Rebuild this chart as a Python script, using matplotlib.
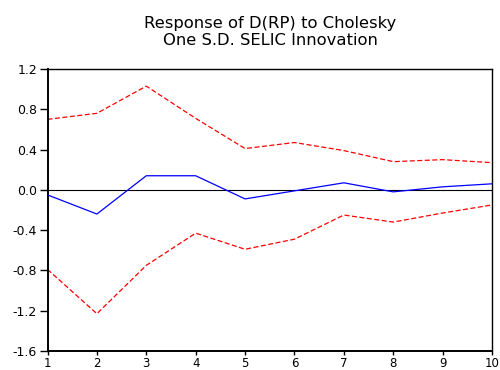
import matplotlib
matplotlib.use("Agg")
import matplotlib.pyplot as plt

periods = [1, 2, 3, 4, 5, 6, 7, 8, 9, 10]
response = [-0.05, -0.24, 0.14, 0.14, -0.09, -0.01, 0.07, -0.02, 0.03, 0.06]
upper = [0.70, 0.76, 1.03, 0.71, 0.41, 0.47, 0.39, 0.28, 0.30, 0.27]
lower = [-0.79, -1.23, -0.75, -0.43, -0.59, -0.49, -0.25, -0.32, -0.23, -0.15]
yticks = [1.2, 0.8, 0.4, 0.0, -0.4, -0.8, -1.2, -1.6]
ytick_labels = ["1.2", "0.8", "0.4", "0.0", "-0.4", "-0.8", "-1.2", "-1.6"]
title = "Response of D(RP) to Cholesky\nOne S.D. SELIC Innovation"

plt.rcParams['font.family'] = ['DejaVu Sans']

fig = plt.figure(figsize=(5, 3.7), dpi=100)
ax = fig.add_axes([0.095, 0.0514, 0.889, 0.7621])

ax.axhline(0, color='black', linewidth=0.8, zorder=1)
ax.plot(periods, response, color='#0000ff', linewidth=0.9, zorder=3)
ax.plot(periods, upper, color='#ff0000', linewidth=0.9, linestyle=(0, (4, 2)), zorder=2)
ax.plot(periods, lower, color='#ff0000', linewidth=0.9, linestyle=(0, (4, 2)), zorder=2)

ax.set_xlim(1, 10)
ax.set_ylim(-1.6, 1.2)
ax.set_xticks(periods)
ax.set_xticklabels([str(p) for p in periods], fontsize=8.5)
ax.set_yticks(yticks)
ax.set_yticklabels(ytick_labels, fontsize=9)
ax.tick_params(axis='y', direction='out', length=5.5, width=1, colors='black', pad=2)
ax.tick_params(axis='x', direction='out', length=3, width=1, colors='black', pad=1)

for s in ['left', 'bottom']:
    ax.spines[s].set_linewidth(1.4)
for s in ['right', 'top']:
    ax.spines[s].set_linewidth(1.0)

fig.text(0.54, 0.958, title, ha='center', va='top', fontsize=11.8, linespacing=1.2)

fig.savefig("out.png", dpi=100)
